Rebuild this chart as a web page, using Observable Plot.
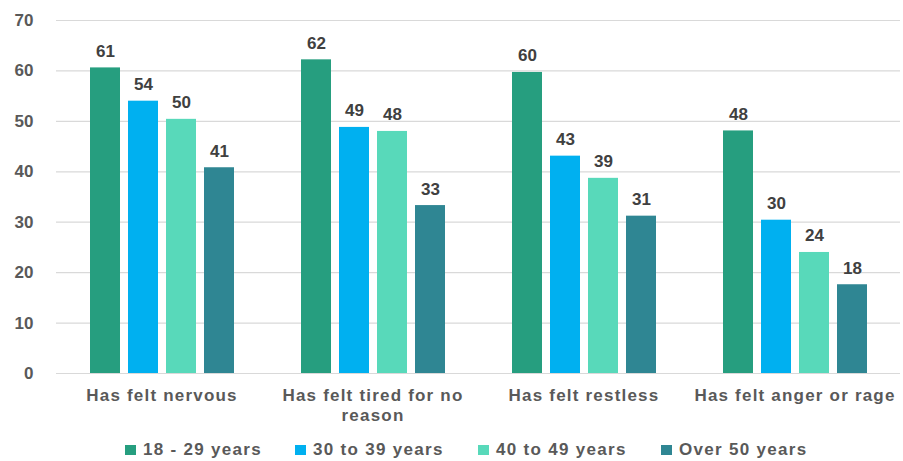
<!DOCTYPE html>
<html>
<head>
<meta charset="utf-8">
<script src="https://cdn.jsdelivr.net/npm/d3@7"></script>
<script src="https://cdn.jsdelivr.net/npm/@observablehq/plot@0.6"></script>
<style>
  html, body { margin: 0; padding: 0; background: #fff; }
  #chart { width: 903px; }
  .cat text { letter-spacing: 1.2px; }
  #legend { position: relative; height: 31px; width: 903px;
    font-family: "Liberation Sans", Arial, sans-serif; font-weight: bold; font-size: 17px;
    color: #595959; letter-spacing: 1.3px; }
  .item { position: absolute; top: 10px; display: flex; align-items: center; line-height: 20px; white-space: nowrap; }
  .sw { width: 11px; height: 10px; margin-right: 7px; display: inline-block; }
</style>
</head>
<body>
<div id="chart"></div>
<div id="legend"></div>
<script>
const categories = ["Has felt nervous", "Has felt tired for no reason", "Has felt restless", "Has felt anger or rage"];
const series = ["18 - 29 years", "30 to 39 years", "40 to 49 years", "Over 50 years"];
const colors = ["#269E7F", "#00B0F0", "#58D9BA", "#2F8693"];
// values per series, in category order
const v18to29 = [60.6, 62.2, 59.7, 48.1];
const v30to39 = [54.0, 48.8, 43.1, 30.4];
const v40to49 = [50.4, 48.0, 38.7, 24.0];
const vOver50 = [40.8, 33.3, 31.2, 17.6];
const yTicks = [0, 10, 20, 30, 40, 50, 60, 70];
const legendX = [125, 295, 478, 661];

const seriesValues = [v18to29, v30to39, v40to49, vOver50];
const data = [];
categories.forEach((c, i) => series.forEach((s, j) => data.push({category: c, series: s, value: seriesValues[j][i]})));

const plot = Plot.plot({
  width: 903,
  height: 430,
  marginTop: 20,
  marginBottom: 57,
  marginLeft: 56,
  marginRight: 3,
  style: {fontFamily: "Liberation Sans, Arial, sans-serif", fontWeight: "bold", fontSize: "17px", background: "#fff"},
  fx: {domain: categories, padding: 0, label: null, axis: null},
  x: {domain: series, paddingInner: 0.22, paddingOuter: 0.86, axis: null},
  y: {domain: [0, 70], label: null, axis: null},
  color: {domain: series, range: colors},
  marks: [
    Plot.gridY(yTicks, {stroke: "#d9d9d9", strokeOpacity: 1, strokeWidth: 1.2}),
    Plot.axisY(yTicks, {tickSize: 0, tickPadding: 23, fill: "#595959", label: null, fontSize: 17}),
    Plot.axisFx({
      anchor: "bottom",
      className: "cat",
      tickSize: 0, tickPadding: 13, fill: "#595959", label: null, fontSize: 17, lineHeight: 1.18,
      tickFormat: d => d === "Has felt tired for no reason" ? "Has felt tired for no\nreason" : d
    }),
    Plot.barY(data, {fx: "category", x: "series", y: "value", fill: "series"}),
    Plot.text(data, {fx: "category", x: "series", y: "value", text: d => d3.format(".0f")(d.value),
      lineAnchor: "bottom", dy: -11, fill: "#404040", fontSize: 17, fontWeight: "bold"})
  ]
});
document.getElementById("chart").appendChild(plot);

const legend = document.getElementById("legend");
series.forEach((s, i) => {
  const item = document.createElement("div");
  item.className = "item";
  item.style.left = legendX[i] + "px";
  const sw = document.createElement("span");
  sw.className = "sw";
  sw.style.background = colors[i];
  const t = document.createElement("span");
  t.textContent = s;
  item.appendChild(sw);
  item.appendChild(t);
  legend.appendChild(item);
});
</script>
</body>
</html>
